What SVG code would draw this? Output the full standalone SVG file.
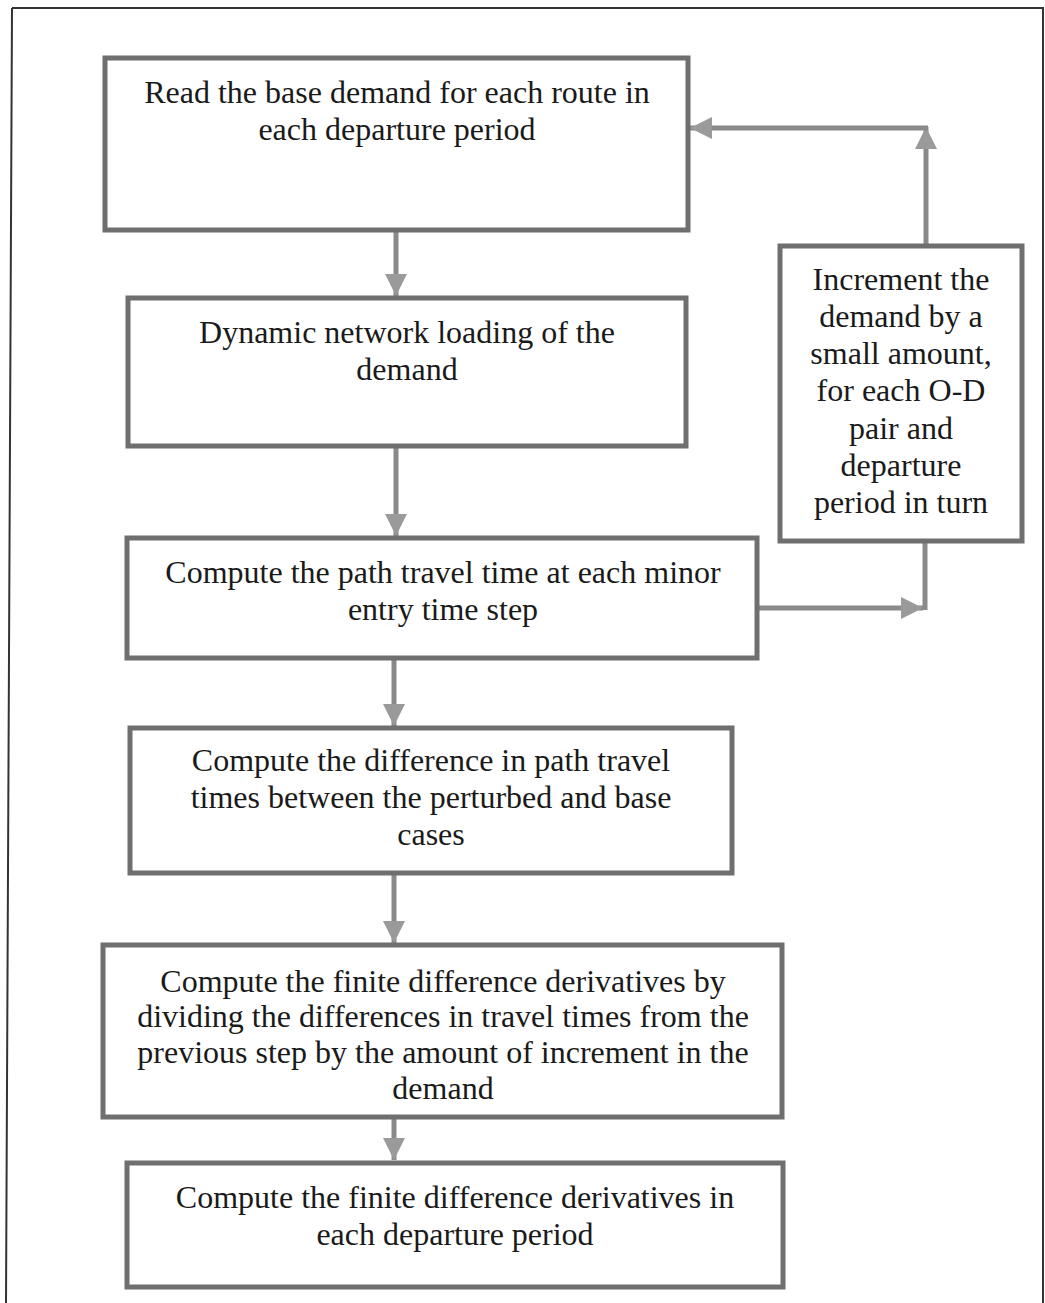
<svg xmlns="http://www.w3.org/2000/svg" width="1045" height="1303" viewBox="0 0 1045 1303">
  <style>
    .box { fill: #ffffff; stroke: #6f6f6f; stroke-width: 5; }
    .lbl { font-family: "Liberation Serif", "Times New Roman", serif; font-size: 32px; fill: #1a1a1a; text-anchor: middle; }
    .wire { fill: none; stroke: #8a8a8a; stroke-width: 5; }
    .frame { fill: none; stroke: #333333; stroke-width: 2; }
  </style>
  <defs>
    <marker id="head" markerUnits="userSpaceOnUse" markerWidth="24" markerHeight="22" refX="22" refY="11" orient="auto">
      <path d="M0,0 L22,11 L0,22 Z" fill="#9a9a9a"/>
    </marker>
  </defs>

  <rect width="1045" height="1303" fill="#ffffff"/>

  <!-- page frame -->
  <path class="frame" d="M12,8 L1043,8 L1043,1303 M12,8 L6,1303"/>

  <!-- connectors -->
  <g id="connectors">
    <line class="wire" x1="396" y1="231" x2="396" y2="296" marker-end="url(#head)"/>
    <line class="wire" x1="396" y1="447" x2="396" y2="536" marker-end="url(#head)"/>
    <line class="wire" x1="394" y1="658" x2="394" y2="726" marker-end="url(#head)"/>
    <line class="wire" x1="394" y1="873" x2="394" y2="943" marker-end="url(#head)"/>
    <line class="wire" x1="394" y1="1117" x2="394" y2="1160" marker-end="url(#head)"/>
    <!-- feedback loop -->
    <line class="wire" x1="758" y1="608" x2="923" y2="608" marker-end="url(#head)"/>
    <line class="wire" x1="925" y1="542" x2="925" y2="610"/>
    <line class="wire" x1="926" y1="246" x2="926" y2="127" marker-end="url(#head)"/>
    <line class="wire" x1="928" y1="128" x2="690" y2="128" marker-end="url(#head)"/>
  </g>

  <g id="read-demand">
    <rect class="box" x="105" y="58" width="583" height="172"/>
    <text class="lbl" x="397" y="103">Read the base demand for each route in</text>
    <text class="lbl" x="397" y="140">each departure period</text>
  </g>

  <g id="network-loading">
    <rect class="box" x="128" y="298" width="558" height="148"/>
    <text class="lbl" x="407" y="343">Dynamic network loading of the</text>
    <text class="lbl" x="407" y="380">demand</text>
  </g>

  <g id="path-travel-time">
    <rect class="box" x="127" y="538" width="630" height="120"/>
    <text class="lbl" x="443" y="583">Compute the path travel time at each minor</text>
    <text class="lbl" x="443" y="620">entry time step</text>
  </g>

  <g id="increment-demand">
    <rect class="box" x="780" y="246" width="242" height="295"/>
    <text class="lbl" x="901" y="290">Increment the</text>
    <text class="lbl" x="901" y="327">demand by a</text>
    <text class="lbl" x="901" y="364">small amount,</text>
    <text class="lbl" x="901" y="401">for each O-D</text>
    <text class="lbl" x="901" y="439">pair and</text>
    <text class="lbl" x="901" y="476">departure</text>
    <text class="lbl" x="901" y="513">period in turn</text>
  </g>

  <g id="time-difference">
    <rect class="box" x="130" y="728" width="602" height="145"/>
    <text class="lbl" x="431" y="771">Compute the difference in path travel</text>
    <text class="lbl" x="431" y="808">times between the perturbed and base</text>
    <text class="lbl" x="431" y="845">cases</text>
  </g>

  <g id="finite-difference">
    <rect class="box" x="103" y="945" width="679" height="172"/>
    <text class="lbl" x="443" y="992">Compute the finite difference derivatives by</text>
    <text class="lbl" x="443" y="1027">dividing the differences in travel times from the</text>
    <text class="lbl" x="443" y="1063">previous step by the amount of increment in the</text>
    <text class="lbl" x="443" y="1099">demand</text>
  </g>

  <g id="period-derivatives">
    <rect class="box" x="127" y="1163" width="656" height="124"/>
    <text class="lbl" x="455" y="1208">Compute the finite difference derivatives in</text>
    <text class="lbl" x="455" y="1245">each departure period</text>
  </g>
</svg>
